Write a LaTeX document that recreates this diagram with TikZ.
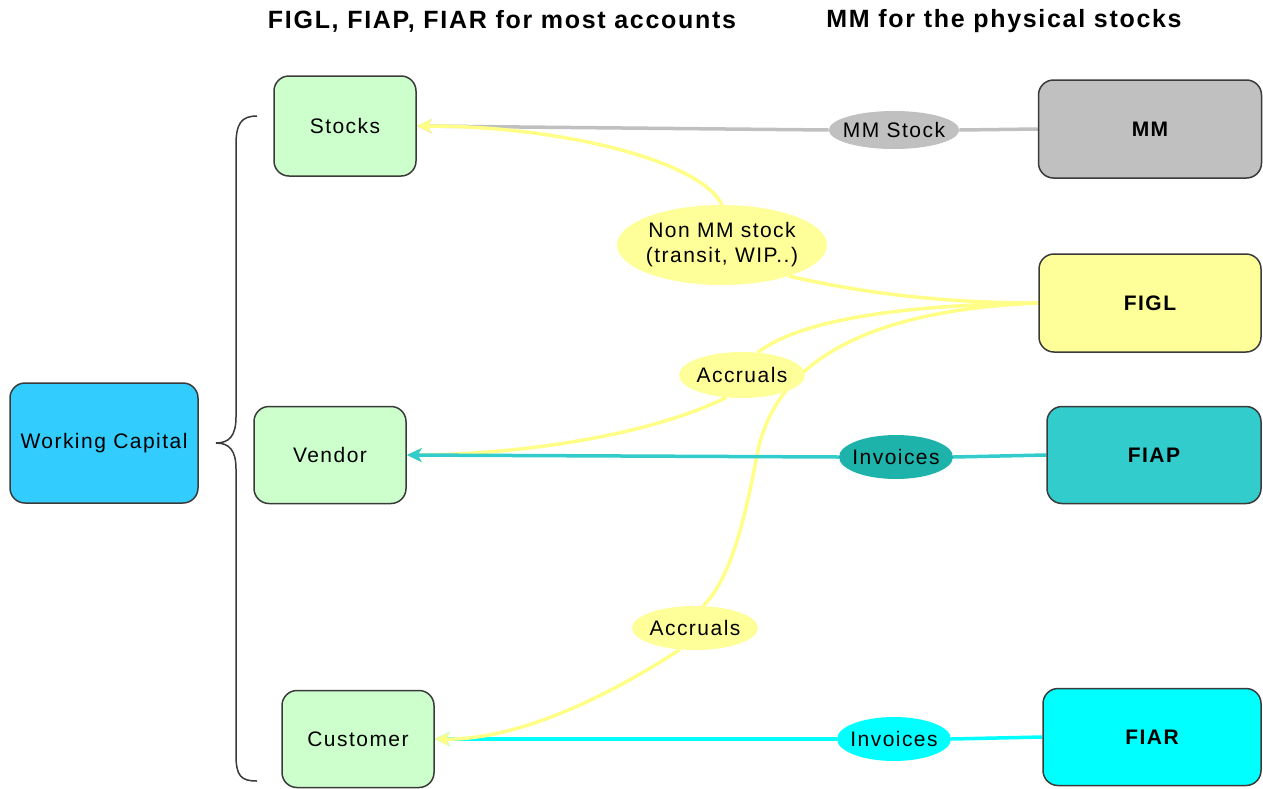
\documentclass[tikz,border=0pt]{standalone}
\usepackage{fontspec}
\setmainfont{Liberation Sans}[LetterSpace=7]
\newfontfamily\hdrfont{Liberation Sans}[LetterSpace=6.8]
\usetikzlibrary{shapes.geometric,arrows.meta,backgrounds}
\definecolor{wcblue}{HTML}{33CCFF}
\definecolor{lgreen}{HTML}{CCFFCC}
\definecolor{mmgray}{HTML}{C0C0C0}
\definecolor{lyellow}{HTML}{FFFF99}
\definecolor{lineyellow}{HTML}{FFFF88}
\definecolor{fiapteal}{HTML}{33CCCC}
\definecolor{invteal}{HTML}{1DB2AA}
\definecolor{fiarcyan}{HTML}{00FFFF}
\definecolor{bordergray}{HTML}{3A3A3A}
\tikzset{
  box/.style={draw=bordergray, line width=1.5pt, rounded corners=15pt, inner sep=0pt, align=center, font=\fontsize{21}{25}\selectfont},
  sysbox/.style={box, font=\fontsize{21}{25}\selectfont\bfseries},
  oval/.style={ellipse, draw=none, inner ysep=0pt, inner xsep=-5pt, align=center, font=\fontsize{21}{25}\selectfont},
  header/.style={font=\hdrfont\fontsize{25}{29}\selectfont\bfseries},
  conn/.style={line width=3.5pt},
  tip/.style={-{Stealth[length=15pt,width=14pt,inset=4pt]}},
}
\begin{document}
\begin{tikzpicture}[x=1pt,y=-1pt]
\useasboundingbox (0,0) rectangle (1263,788);

% headers
\node[header] (h1) at (502,21) {FIGL, FIAP, FIAR for most accounts};
\node[header] (h2) at (1004,21) {MM for the physical stocks};

% boxes
\node[box, fill=wcblue, minimum width=188pt, minimum height=120pt] (wc) at (104,443) {Working Capital};
\node[box, fill=lgreen, minimum width=142pt, minimum height=100pt] (stocks) at (345,126) {Stocks};
\node[box, fill=lgreen, minimum width=152pt, minimum height=97pt] (vendor) at (330,455) {Vendor};
\node[box, fill=lgreen, minimum width=152pt, minimum height=97pt] (customer) at (358,739) {Customer};
\node[sysbox, fill=mmgray, minimum width=223pt, minimum height=98pt] (mm) at (1150,129) {MM};
\node[sysbox, fill=lyellow, minimum width=222pt, minimum height=98pt] (figl) at (1150,303) {FIGL};
\node[sysbox, fill=fiapteal, minimum width=214pt, minimum height=97pt] (fiap) at (1154,455) {FIAP};
\node[sysbox, fill=fiarcyan, minimum width=218pt, minimum height=97pt] (fiar) at (1152,737) {FIAR};

% ovals
\node[oval, fill=mmgray, minimum width=130pt, minimum height=38pt] (mmstock) at (894,130) {MM Stock};
\node[oval, fill=lyellow, minimum width=210pt, minimum height=80pt] (nonmm) at (722,245) {Non MM stock\\(transit, WIP..)};
\node[oval, fill=lyellow, minimum width=126pt, minimum height=46pt] (accr1) at (742,375) {Accruals};
\node[oval, fill=invteal, minimum width=114pt, minimum height=44pt] (inv1) at (896,457) {Invoices};
\node[oval, fill=lyellow, minimum width=126pt, minimum height=44pt] (accr2) at (695,628) {Accruals};
\node[oval, fill=fiarcyan, minimum width=114pt, minimum height=44pt] (inv2) at (894,739) {Invoices};

% brace
\draw[bordergray, line width=1.5pt] (257,116) .. controls (241,116) and (236,124) .. (236,145)
  -- (236,417) .. controls (236,436) and (229,443) .. (216,443)
  .. controls (229,443) and (236,450) .. (236,469)
  -- (236,755) .. controls (236,776) and (241,781) .. (257,781);

\begin{scope}[on background layer]
\fill[white] (0,0) rectangle (1263,788);
% gray MM
\draw[conn, mmgray] (mm.west) -- (mmstock.east);
\draw[conn, mmgray, tip] (mmstock.west) -- (stocks.east);
% cyan FIAR
\draw[conn, fiarcyan] (fiar.west) -- (inv2.east);
\draw[conn, fiarcyan, tip] (inv2.west) -- (customer.east);
% yellow FIGL
\draw[conn, lineyellow] (figl.west) .. controls (930,303) and (850,290) .. (nonmm.-25);
\draw[conn, lineyellow, tip] (nonmm.north) .. controls (700,160) and (560,126) .. (stocks.east);
\draw[conn, lineyellow] (figl.west) .. controls (900,305) and (800,320) .. (accr1.55);
\draw[conn, lineyellow, tip] (accr1.-125) .. controls (640,440) and (500,455) .. (vendor.east);
\draw[conn, lineyellow] (figl.west) .. controls (870,310) and (775,360) .. (757,455)
  .. controls (745,520) and (730,580) .. (accr2.70);
\draw[conn, lineyellow, tip] (accr2.-125) .. controls (610,695) and (520,740) .. (customer.east);
% teal FIAP
\draw[conn, fiapteal] (fiap.west) -- (inv1.east);
\draw[conn, fiapteal, tip] (inv1.west) -- (vendor.east);
\end{scope}
\end{tikzpicture}
\end{document}
